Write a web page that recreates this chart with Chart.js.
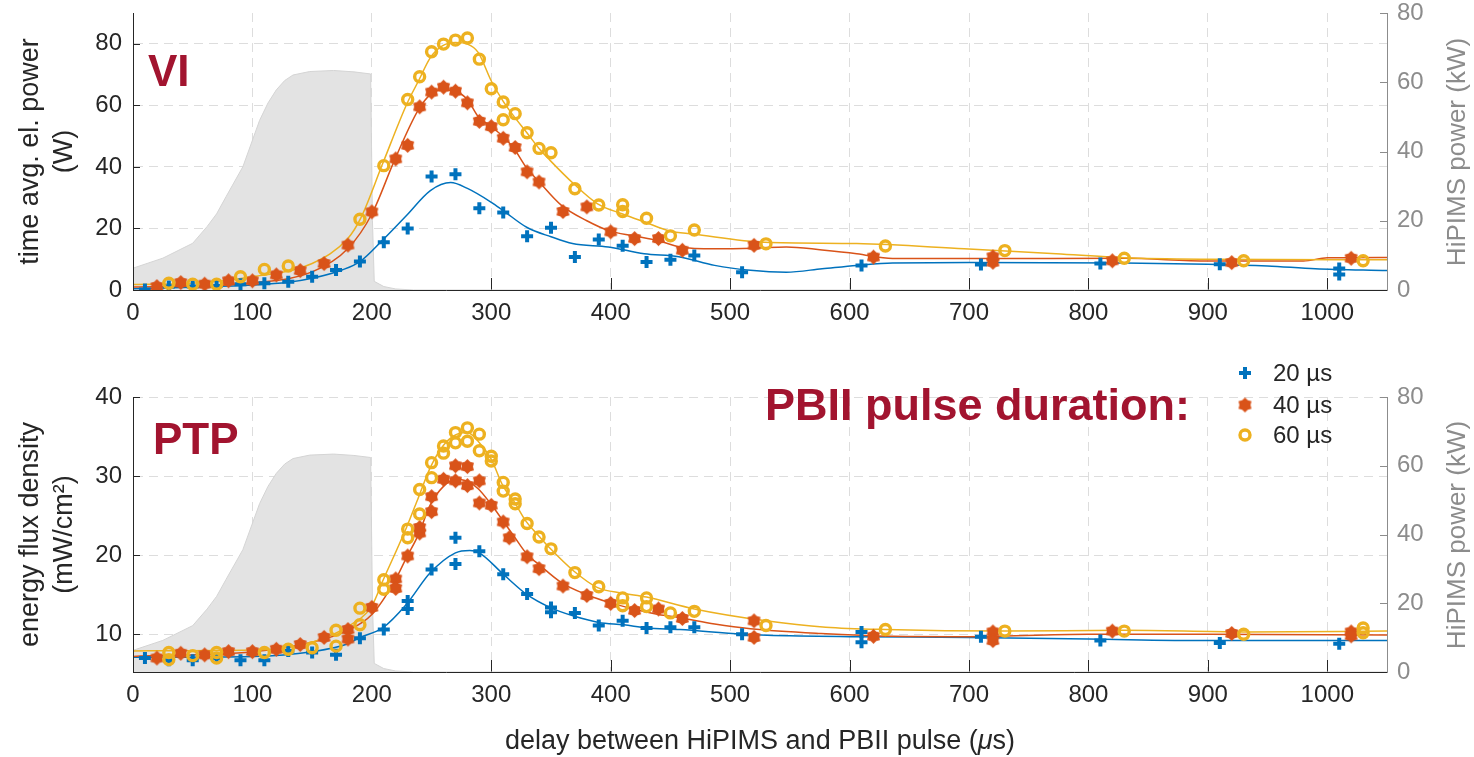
<!DOCTYPE html>
<html>
<head>
<meta charset="utf-8">
<script src="https://cdn.jsdelivr.net/npm/chart.js@4.4.0/dist/chart.umd.min.js"></script>
<style>
  body { margin: 0; background: #fff; width: 1474px; height: 757px; overflow: hidden; position: relative;
         font-family: "Liberation Sans", Arial, sans-serif; }
  canvas { position: absolute; left: 0; }
  #topChart { top: 0; }
  #botChart { top: 345px; }
  .tag { position: absolute; font-weight: bold; color: #A2142F; line-height: 1; white-space: nowrap; }
  .rtitle { position: absolute; color: #8c8c8c; font-size: 26px; white-space: nowrap; line-height: 1;
            transform: translate(-50%, -50%) rotate(-90deg); }
  .legtxt { position: absolute; font-size: 24px; color: #262626; line-height: 1; white-space: nowrap; }
  #xtitle { position: absolute; left: 760px; top: 740px; font-size: 27px; color: #262626; white-space: nowrap;
            line-height: 1; transform: translate(-50%, -50%); }
</style>
</head>
<body>
<canvas id="topChart" width="1474" height="345"></canvas>
<canvas id="botChart" width="1474" height="412"></canvas>

<div class="tag" style="left:148px; top:49px; font-size:44px;">VI</div>
<div class="tag" style="left:153px; top:417px; font-size:44px;">PTP</div>
<div class="tag" style="left:765px; top:382px; font-size:45px;">PBII pulse duration:</div>
<div class="rtitle" style="left:1456px; top:152px;">HiPIMS power (kW)</div>
<div class="rtitle" style="left:1456px; top:535px;">HiPIMS power (kW)</div>
<div class="legtxt" style="left:1273px; top:361px;">20 µs</div>
<div class="legtxt" style="left:1273px; top:393px;">40 µs</div>
<div class="legtxt" style="left:1273px; top:423px;">60 µs</div>
<div id="xtitle">delay between HiPIMS and PBII pulse (<i>μ</i>s)</div>

<script>
// HiPIMS discharge power (kW), same trace in both panels
const hipims = [[0,6.3],[25,9.2],[50,13.5],[62,18.3],[70,22],[78,27],[92,35.6],[106,49],[113,54],[120,57.8],
  [127,60.5],[134,62.1],[148,63.1],[168,63.4],[185,63],[199,62.4],[200.5,20],[202,2.5],[210,1],[220,0.3],[235,0],[1050,0]];

// VI: time averaged electrical power (W)
const viBlue = [[10,0.2],[30,1.1],[50,1.1],[70,1.3],[90,1.9],[110,2.2],[130,2.7],[150,4.3],[170,6.5],[190,9.3],
  [210,15.5],[230,20],[250,36.9],[270,37.6],[290,26.6],[310,25.2],[330,17.5],[350,20.2],[370,10.7],[390,16.4],
  [410,14.4],[430,9.1],[450,9.8],[470,11.2],[510,5.8],[610,8],[710,8.3],[810,8.6],[910,8.4],[1010,5],[1010,7]];
const viOrange = [[20,1.1],[40,2.4],[60,1.9],[80,3],[100,3],[120,4.9],[140,6.3],[160,8.6],[180,14.6],[200,25.4],
  [220,42.6],[230,47],[240,59.5],[250,64.3],[260,65.9],[270,64.6],[280,60.8],[290,54.8],[300,53.1],[310,49.3],
  [320,46.3],[330,38.4],[340,35.1],[360,25.5],[380,27],[400,18.9],[420,16.7],[440,16.7],[460,12.9],[520,14.5],
  [620,10.7],[720,10.8],[720,9],[820,9.5],[920,8.9],[1020,10.3]];
const viYellow = [[30,2.2],[50,1.9],[70,1.9],[90,4.3],[110,6.7],[130,7.8],[190,23],[210,40.4],[230,61.9],[240,69.3],
  [250,77.4],[260,79.9],[270,81.2],[280,81.9],[290,75],[300,65.4],[310,61.1],[310,55.3],[320,57.3],[330,51.1],
  [340,46],[350,44.6],[370,32.9],[390,27.6],[410,27.7],[410,25.5],[430,23.3],[450,17.6],[470,19.5],[530,15],
  [630,14.3],[730,12.8],[830,10.3],[930,9.5],[1030,9.5]];
const viBlueFit = [[0,0.4],[50,0.9],[100,1.6],[130,2.5],[150,3.8],[175,6.5],[190,9.2],[209,16.2],[229,24.2],
  [249,32.3],[266,34.9],[280,33],[300,28.5],[310,25.8],[330,20.3],[350,17.3],[368,15.1],[398,14],[428,11.8],
  [457,10.8],[487,8],[517,6.4],[547,5.8],[577,6.9],[606,8],[636,8.8],[700,8.9],[830,8.8],[900,8.4],[950,7.8],
  [990,6.9],[1050,6.3]];
const viOrangeFit = [[0,1],[50,1.3],[100,2.3],[150,5.9],[180,13.5],[200,24.7],[219,42.2],[239,58.6],[249,63.5],
  [259,65.1],[270,64.6],[280,61.9],[289,56.4],[300,53.1],[310,49.8],[319,46],[329,40],[339,35.6],[359,27.4],
  [380,22.5],[399,19.2],[419,17.6],[440,16],[458,14],[487,13.4],[520,13.6],[547,14],[577,13],[606,11.8],
  [636,10.2],[700,10.2],[830,10.3],[900,9.4],[980,9.4],[1000,10.5],[1050,10.6]];
const viYellowFit = [[0,1.8],[50,2.2],[100,4.3],[150,8.6],[180,16.8],[191,23.6],[209,41],[229,60.2],[239,67.9],
  [249,75.5],[259,79.3],[270,80.4],[280,79.9],[289,77.2],[300,67.9],[310,61.3],[319,56.4],[329,51.5],[340,46],
  [349,42.2],[369,34.5],[389,28],[410,24.7],[429,22],[449,19.2],[469,18.2],[529,15.5],[606,15.1],[696,13.4],
  [773,11.8],[830,10.5],[900,10],[1050,9.8]];

// PTP: energy flux density (mW/cm2)
const ptpBlue = [[10,7],[30,6.7],[50,6.7],[70,7],[90,6.7],[110,6.7],[130,7.9],[150,7.7],[170,7.4],[190,9.5],
  [210,10.6],[230,14.2],[230,13.2],[250,18.2],[270,22.2],[270,18.9],[290,20.5],[310,17.6],[330,15.1],[350,13.4],
  [350,12.8],[370,12.7],[390,11.1],[410,11.7],[430,10.8],[450,10.9],[470,10.9],[510,10],[610,10.3],[610,9],
  [710,9.7],[810,9.2],[910,8.9],[1010,8.8]];
const ptpOrange = [[20,7],[40,7.6],[60,7.4],[80,7.8],[100,7.8],[120,8.1],[140,8.7],[160,9.6],[180,10.6],[180,9.4],
  [200,13.4],[220,17],[220,15.8],[230,19.9],[240,22.8],[240,23.5],[250,25.5],[250,27.4],[260,29.6],[270,31.3],
  [270,29.4],[280,31.2],[280,28.8],[290,29.4],[290,26.6],[300,26.3],[310,24.2],[315,22.2],[330,19.8],[340,18.3],
  [360,16.1],[380,14.9],[400,13.9],[420,13],[440,13.2],[460,12],[520,11.7],[520,9.6],[620,9.75],[720,10.3],
  [720,9.2],[820,10.4],[920,10.1],[1020,10.3],[1020,9.8]];
const ptpYellow = [[30,7.7],[30,6.8],[50,7.3],[70,7.7],[70,7],[110,7.7],[130,8.1],[150,8.3],[170,8.5],[170,10.5],
  [190,13.3],[190,11.2],[210,16.9],[210,15.7],[230,23.3],[230,22.2],[240,25.2],[240,28.3],[250,29.8],[250,31.7],
  [260,33.8],[260,32.9],[270,35.5],[270,34.2],[280,36.1],[280,34.4],[290,35.3],[290,33.2],[300,32.5],[300,31.9],
  [310,29.2],[310,28.1],[320,27.1],[320,26.5],[330,24],[340,22.3],[350,20.8],[370,17.8],[390,16],[410,14.6],
  [410,13.6],[430,14.6],[430,13.5],[450,12.7],[470,12.9],[530,11.1],[630,10.6],[730,10.4],[830,10.4],[930,10],
  [1030,10.2],[1030,10.8]];
const ptpBlueFit = [[0,7.1],[100,7.2],[150,7.8],[180,8.8],[190,9.6],[209,10.8],[229,13.8],[249,17.8],[270,20.3],
  [282,20.6],[290,20.3],[310,17.6],[330,15],[349,13.4],[369,12.3],[390,11.5],[411,11.2],[430,10.8],[458,10.6],
  [510,10],[550,9.8],[600,9.7],[700,9.6],[800,9.4],[900,9.2],[1050,9.2]];
const ptpOrangeFit = [[0,7.2],[100,7.8],[150,9],[180,10.5],[200,12.5],[219,16.7],[229,19.7],[239,22.6],[249,26.4],
  [260,28.7],[270,29.6],[279,29.4],[289,28.4],[300,26.4],[310,24.3],[319,22.4],[330,20.1],[340,18.8],[359,16.5],
  [380,15],[399,14],[419,13.2],[440,12.5],[458,12.1],[487,11.3],[517,10.7],[576,10.1],[636,9.75],[695,9.7],
  [800,10],[900,10],[1050,9.9]];
const ptpYellowFit = [[0,7.9],[100,8],[150,9],[180,11],[200,13.6],[209,16.7],[229,23.5],[239,27.3],[249,31.1],
  [260,33.9],[270,35.2],[280,35.5],[289,34.4],[300,32.1],[310,28.7],[319,26.8],[329,24.3],[340,22.4],[349,20.9],
  [369,18],[389,15.9],[410,15.2],[430,14.7],[470,13.2],[530,11.7],[580,10.9],[630,10.6],[730,10.4],[830,10.5],
  [930,10.3],[1050,10.4]];

const xTicks = [0, 100, 200, 300, 400, 500, 600, 700, 800, 900, 1000];
const rightTicks = [0, 20, 40, 60, 80];

const blue = '#0072BD', orange = '#D95319', yellow = '#EDB120';
const axisCol = '#262626', rightCol = '#8c8c8c', gridCol = '#dddddd';

Chart.defaults.font.family = '"Liberation Sans", Arial, sans-serif';
Chart.defaults.color = axisCol;

// filled six point star for the 40 us series
function hexagram(color, r) {
  const c = document.createElement('canvas');
  const s = Math.ceil(2 * r + 2);
  c.width = c.height = s;
  const g = c.getContext('2d');
  g.fillStyle = color;
  g.beginPath();
  for (let i = 0; i < 12; i++) {
    const a = Math.PI / 6 * i - Math.PI / 2;
    const rr = i % 2 ? r * 0.74 : r;
    g.lineTo(s / 2 + rr * Math.cos(a), s / 2 + rr * Math.sin(a));
  }
  g.closePath();
  g.fill();
  return c;
}
const star = hexagram(orange, 7.5);

const toXY = a => a.map(p => ({ x: p[0], y: p[1] }));

function fitSet(d, color) {
  return { type: 'line', data: toXY(d), borderColor: color, borderWidth: 1.5, pointRadius: 0, fill: false,
           cubicInterpolationMode: 'monotone', yAxisID: 'y', order: 5 };
}
function markSet(d, color, style, order) {
  const o = { type: 'scatter', data: toXY(d), yAxisID: 'y', showLine: false, order: order, pointStyle: style };
  if (style === 'cross') Object.assign(o, { borderColor: color, pointRadius: 6, borderWidth: 4 });
  else if (style === 'circle') Object.assign(o, { borderColor: color, backgroundColor: 'rgba(0,0,0,0)', pointRadius: 5, borderWidth: 3.4 });
  else Object.assign(o, { pointRadius: 7 });
  return o;
}

// matlab style ticks pointing into the axes
const innerTicks = {
  id: 'innerTicks',
  beforeDatasetsDraw(chart) {
    const { ctx, chartArea: a, scales } = chart;
    ctx.save();
    ctx.lineWidth = 1;
    ctx.strokeStyle = axisCol;
    ctx.beginPath();
    scales.x.ticks.forEach(t => {
      const p = Math.round(scales.x.getPixelForValue(t.value)) + 0.5;
      ctx.moveTo(p, a.bottom); ctx.lineTo(p, a.bottom - 12);
    });
    scales.y.ticks.forEach(t => {
      const p = Math.round(scales.y.getPixelForValue(t.value)) + 0.5;
      ctx.moveTo(a.left, p); ctx.lineTo(a.left + 7, p);
    });
    ctx.stroke();
    ctx.strokeStyle = rightCol;
    ctx.beginPath();
    scales.y2.ticks.forEach(t => {
      const p = Math.round(scales.y2.getPixelForValue(t.value)) + 0.5;
      ctx.moveTo(a.right, p); ctx.lineTo(a.right - 7, p);
    });
    ctx.stroke();
    ctx.restore();
  }
};

// legend marks (labels are html)
const legendMarks = {
  id: 'legendMarks',
  afterDraw(chart) {
    const ctx = chart.ctx;
    ctx.save();
    ctx.strokeStyle = blue;
    ctx.lineWidth = 4;
    Chart.helpers.drawPoint(ctx, { pointStyle: 'cross', radius: 6, borderWidth: 4, rotation: 0 }, 1245, 28);
    Chart.helpers.drawPoint(ctx, { pointStyle: star, radius: 7, rotation: 0 }, 1245, 60);
    ctx.strokeStyle = yellow;
    ctx.fillStyle = 'rgba(255,255,255,0)';
    ctx.lineWidth = 3.4;
    Chart.helpers.drawPoint(ctx, { pointStyle: 'circle', radius: 5, borderWidth: 3.4, rotation: 0 }, 1245, 90);
    ctx.restore();
  }
};

// keep the plot box where the reference has it, labels may overhang
function vFit(w) {
  return s => { s.width = w; s.paddingTop = 0; s.paddingBottom = 0; };
}

function makeChart(id, o) {
  const plugins = [innerTicks];
  if (o.legend) plugins.push(legendMarks);
  return new Chart(document.getElementById(id), {
    type: 'scatter',
    data: {
      datasets: [
        markSet(o.yellow, yellow, 'circle', 1),
        markSet(o.orange, orange, star, 2),
        markSet(o.blue, blue, 'cross', 3),
        fitSet(o.yellowFit, yellow),
        fitSet(o.orangeFit, orange),
        fitSet(o.blueFit, blue),
        { type: 'line', data: toXY(hipims), yAxisID: 'y2', fill: 'origin', backgroundColor: '#e3e3e3',
          borderColor: '#d4d4d4', borderWidth: 1, pointRadius: 0, tension: 0, order: 10 }
      ]
    },
    options: {
      responsive: false,
      animation: false,
      events: [],
      layout: { padding: { top: o.padTop, left: 0, right: 0, bottom: 0 } },
      plugins: { legend: { display: false }, tooltip: { enabled: false } },
      scales: {
        x: {
          type: 'linear', min: 0, max: 1050,
          afterBuildTicks: s => { s.ticks = xTicks.map(v => ({ value: v })); },
          ticks: { autoSkip: false, maxRotation: 0, padding: 11, color: axisCol, font: { size: 24, lineHeight: 1 },
                   callback: v => String(v) },
          grid: { color: gridCol, drawTicks: false },
          border: { color: axisCol, dash: [9, 6], z: 1 },
          afterFit: s => { s.height = o.xHeight; }
        },
        y: {
          position: 'left', min: o.yMin, max: o.yMax,
          afterBuildTicks: s => { s.ticks = o.yTicks.map(v => ({ value: v })); },
          ticks: { padding: 11, color: axisCol, font: { size: 24, lineHeight: 1 }, callback: v => String(v) },
          grid: { color: gridCol, drawTicks: false },
          border: { color: axisCol, dash: [9, 6], z: 1 },
          title: { display: true, text: o.title, color: axisCol, font: { size: 27, lineHeight: 1.25 }, padding: { top: 14, bottom: 0 } },
          afterFit: vFit(133)
        },
        y2: {
          position: 'right', min: 0, max: 80,
          afterBuildTicks: s => { s.ticks = rightTicks.map(v => ({ value: v })); },
          ticks: { padding: 10, color: rightCol, font: { size: 24, lineHeight: 1 }, callback: v => String(v) },
          grid: { drawOnChartArea: false, drawTicks: false },
          border: { color: rightCol, z: 1 },
          afterFit: vFit(87)
        }
      }
    },
    plugins: plugins
  });
}

makeChart('topChart', {
  blue: viBlue, orange: viOrange, yellow: viYellow,
  blueFit: viBlueFit, orangeFit: viOrangeFit, yellowFit: viYellowFit,
  yMin: 0, yMax: 90, yTicks: [0, 20, 40, 60, 80],
  title: ['time avg. el. power', '(W)'], padTop: 13, xHeight: 55
});

makeChart('botChart', {
  blue: ptpBlue, orange: ptpOrange, yellow: ptpYellow,
  blueFit: ptpBlueFit, orangeFit: ptpOrangeFit, yellowFit: ptpYellowFit,
  yMin: 5.23, yMax: 40, yTicks: [10, 20, 30, 40],
  title: ['energy flux density', '(mW/cm²)'], padTop: 52, xHeight: 85, legend: true
});
</script>
</body>
</html>
